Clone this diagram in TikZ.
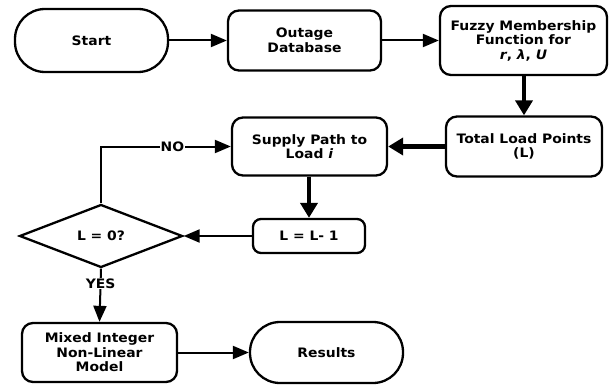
\documentclass[tikz,border=0pt]{standalone}
\usepackage{fontspec}
\setmainfont{DejaVu Sans}[FakeStretch=1.07]
\usetikzlibrary{arrows.meta,shapes.geometric}
\tikzset{
  box/.style={draw,line width=2.3pt,rounded corners=11pt,align=center,inner sep=0pt,
    font=\fontsize{13}{14.5}\selectfont\bfseries},
  term/.style={box,rounded corners=30pt},
  dec/.style={draw,line width=2.3pt,diamond,inner sep=0pt,aspect=2.6,
    font=\fontsize{13}{14.5}\selectfont\bfseries},
  thin/.style={line width=2pt,-{Triangle[length=16pt,width=13pt]}},
  thick/.style={line width=4.5pt,-{Triangle[length=15pt,width=17pt]}},
  lbl/.style={fill=white,inner sep=1pt,font=\fontsize{13}{14}\selectfont\bfseries}
}
\begin{document}
\begin{tikzpicture}[x=1pt,y=-1pt]
\useasboundingbox (0,0) rectangle (610,385);
\node[term,minimum width=153pt,minimum height=63pt] (start) at (91.5,40.5) {Start};
\node[box,minimum width=153pt,minimum height=60pt] (outage) at (304.5,40.5) {Outage\\Database};
\node[box,minimum width=167pt,minimum height=69pt] (fuzzy) at (523.5,40.5) {Fuzzy Membership\\Function for\\\textit{r}, \textit{λ}, \textit{U}};
\node[box,minimum width=156pt,minimum height=60pt] (total) at (524,146.5) {Total Load Points\\(L)};
\node[box,minimum width=155pt,minimum height=58pt] (supply) at (309.5,146.5) {Supply Path to\\Load \textit{i}};
\node[box,rounded corners=8pt,minimum width=112pt,minimum height=34pt] (dec1) at (309,236) {L = L- 1};
\node[dec,minimum width=163pt,minimum height=63pt] (cond) at (101,236) {L = 0?};
\node[box,minimum width=155pt,minimum height=59pt] (minlp) at (99.5,352.5) {Mixed Integer\\Non-Linear\\Model};
\node[term,minimum width=153pt,minimum height=61pt] (res) at (326.5,352.5) {Results};
\coordinate (corner) at (cond.north |- supply.west);
\draw[thin] (start) -- (outage);
\draw[thin] (outage.east) -- (outage.east -| fuzzy.west);
\draw[thick] (fuzzy.south -| total.north) -- (total.north);
\draw[thick] (total.west) -- (supply.east);
\draw[thick] (supply.south -| dec1.north) -- (dec1.north);
\draw[thin] (dec1.west) -- (cond.east);
\draw[thin] (cond.north) -- (corner) -- node[lbl,pos=0.55]{NO} (supply.west);
\draw[thin] (cond.south) -- node[lbl,pos=0.28]{YES} (minlp.north);
\draw[thin] (minlp) -- (res);
\end{tikzpicture}
\end{document}
